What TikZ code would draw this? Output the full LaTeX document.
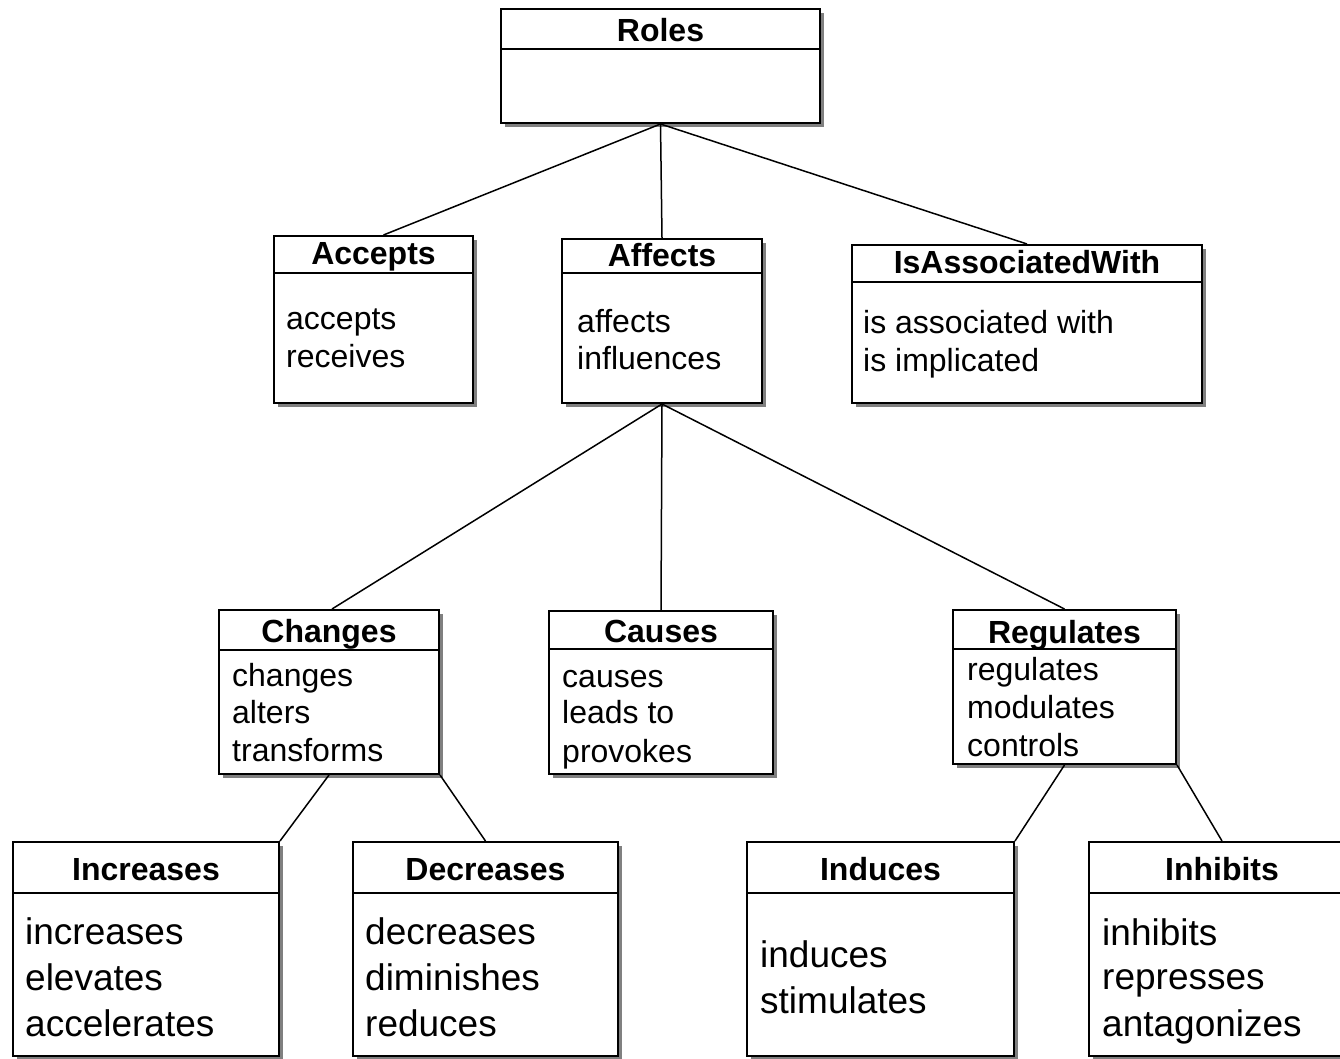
\documentclass[tikz,border=0pt]{standalone}
\usepackage{fontspec}
\setmainfont{Liberation Sans}
\usetikzlibrary{fit}
% #1 name, #2 x1, #3 y1, #4 x2, #5 y2, #6 header line y, #7 title baseline, #8 title
\newcommand\umlbox[8]{%
  \fill[boxshade] (#2+4,#3+4) rectangle (#4+4,#5+4);
  \coordinate (#1-nw) at (#2,#3);
  \coordinate (#1-se) at (#4,#5);
  \node[boxframe, fit=(#1-nw)(#1-se)] (#1) {};
  \draw[line width=2pt] (#2,#6) -- (#4,#6);
  \node[titletext] (#1-title) at ({(#2+#4)/2},#7) {#8};
}
\begin{document}
\begin{tikzpicture}[x=1pt,y=-1pt,
  boxframe/.style={draw=black, line width=2pt, fill=white, inner sep=0pt},
  boxshade/.style={fill=black!50},
  titletext/.style={font=\fontsize{32}{38}\selectfont\bfseries, anchor=base, inner sep=0pt},
  bodytext/.style={font=\fontsize{32}{38}\selectfont, anchor=base west, inner sep=0pt},
  bigbody/.style={font=\fontsize{37}{44}\selectfont, anchor=base west, inner sep=0pt},
  link/.style={draw=black, line width=1.5pt}]
\useasboundingbox (0,0) rectangle (1340,1059);

% boxes
\umlbox{roles}{501}{9}{820}{123}{49}{42}{Roles}
\umlbox{accepts}{274}{236}{473}{403}{273}{265}{Accepts}
\umlbox{affects}{562}{239}{762}{403}{273}{266}{Affects}
\umlbox{assoc}{852}{245}{1202}{403}{282}{273}{IsAssociatedWith}
\umlbox{changes}{219}{610}{439}{774}{650}{642}{Changes}
\umlbox{causes}{549}{611}{773}{774}{649}{642}{Causes}
\umlbox{regulates}{953}{610}{1176}{764}{649}{643}{Regulates}
\umlbox{increases}{13}{842}{279}{1056}{893}{880}{Increases}
\umlbox{decreases}{353}{842}{618}{1056}{893}{880}{Decreases}
\umlbox{induces}{747}{842}{1014}{1056}{893}{880}{Induces}
\umlbox{inhibits}{1089}{842}{1355}{1056}{893}{880}{Inhibits}

% body texts
\node[bodytext] (acc1) at (286,329) {accepts};
\node[bodytext] (acc2) at (286,367) {receives};
\node[bodytext] (aff1) at (577,332) {affects};
\node[bodytext] (aff2) at (577,369) {influences};
\node[bodytext] (as1) at (863,333) {is associated with};
\node[bodytext] (as2) at (863,371) {is implicated};
\node[bodytext] (ch1) at (232,686) {changes};
\node[bodytext] (ch2) at (232,723) {alters};
\node[bodytext] (ch3) at (232,761) {transforms};
\node[bodytext] (ca1) at (562,687) {causes};
\node[bodytext] (ca2) at (562,723) {leads to};
\node[bodytext] (ca3) at (562,762) {provokes};
\node[bodytext] (re1) at (967,680) {regulates};
\node[bodytext] (re2) at (967,718) {modulates};
\node[bodytext] (re3) at (967,756) {controls};
\node[bigbody] (in1) at (25,944) {increases};
\node[bigbody] (in2) at (25,990) {elevates};
\node[bigbody] (in3) at (25,1036) {accelerates};
\node[bigbody] (de1) at (365,944) {decreases};
\node[bigbody] (de2) at (365,990) {diminishes};
\node[bigbody] (de3) at (365,1036) {reduces};
\node[bigbody] (ind1) at (760,967) {induces};
\node[bigbody] (ind2) at (760,1013) {stimulates};
\node[bigbody] (inh1) at (1102,945) {inhibits};
\node[bigbody] (inh2) at (1102,989) {represses};
\node[bigbody] (inh3) at (1102,1036) {antagonizes};

% connectors
\draw[link] (roles.south) -- ([xshift=10pt]accepts.north);
\draw[link] (roles.south) -- (affects.north);
\draw[link] (roles.south) -- (assoc.north);
\draw[link] (affects.south) -- ([xshift=3pt]changes.north);
\draw[link] (affects.south) -- (causes.north);
\draw[link] (affects.south) -- (regulates.north);
\draw[link] (changes.south) -- (increases.north east);
\draw[link] (changes.south east) -- (decreases.north);
\draw[link] (regulates.south) -- (induces.north east);
\draw[link] (regulates.south east) -- (inhibits.north);
\end{tikzpicture}
\end{document}
